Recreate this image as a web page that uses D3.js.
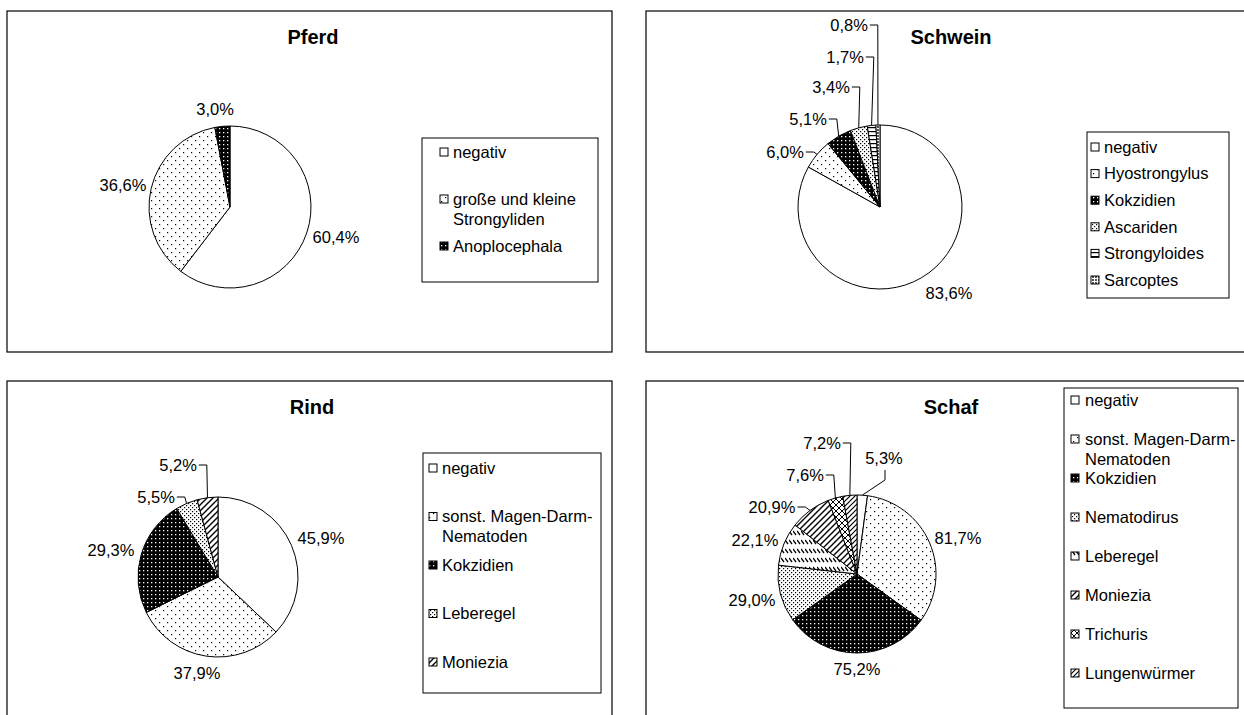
<!DOCTYPE html>
<html>
<head>
<meta charset="utf-8">
<script src="https://cdn.jsdelivr.net/npm/d3@7"></script>
<style>
body { margin: 0; background: #fff; }
svg text { font-family: Arial, "Liberation Sans", sans-serif; fill: #000; }
</style>
</head>
<body>
<svg id="chart" width="1244" height="715"></svg>
<script>
// ---- data ----
var pferdCats = ["negativ", "große und kleine Strongyliden", "Anoplocephala"];
var pferdVals = [60.4, 36.6, 3.0];

var schweinCats = ["negativ", "Hyostrongylus", "Kokzidien", "Ascariden", "Strongyloides", "Sarcoptes"];
var schweinVals = [83.6, 6.0, 5.1, 3.4, 1.7, 0.8];

var rindCats = ["negativ", "sonst. Magen-Darm-Nematoden", "Kokzidien", "Leberegel", "Moniezia"];
var rindVals = [45.9, 37.9, 29.3, 5.5, 5.2];

var schafCats = ["negativ", "sonst. Magen-Darm-Nematoden", "Kokzidien", "Nematodirus", "Leberegel", "Moniezia", "Trichuris", "Lungenwürmer"];
var schafVals = [5.3, 81.7, 75.2, 29.0, 22.1, 20.9, 7.6, 7.2];

// ---- layout / styles ----
var panels = [
    { title: "Pferd", cats: pferdCats, vals: pferdVals,
      fills: ["white", "dots", "darkdots"],
      frame: [7, 11, 605, 341], titlePos: [313, 37], center: [230, 207], r: 81,
      legend: { box: [422, 138, 176, 144], symX: 440, textX: 453, y0: 152, pitch: 47 },
      labelOff: [[106, 30, 0], [-107, -22, 0], [-15, -98, 0]] },
    { title: "Schwein", cats: schweinCats, vals: schweinVals,
      fills: ["white", "dots", "darkdots", "densedots", "hlines", "sarc"],
      frame: [646, 11, 620, 341], titlePos: [951, 37], center: [880, 207], r: 82,
      legend: { box: [1087, 132, 142, 166], symX: 1091, textX: 1104, y0: 147, pitch: 26.6 },
      labelOff: [[69, 86, 0], [-95, -55, 1], [-72, -88, 1], [-49, -120, 1], [-35, -150, 1], [-31, -182, 1]] },
    { title: "Rind", cats: rindCats, vals: rindVals,
      fills: ["white", "dots", "darkdots", "densedots", "diag"],
      frame: [7, 381, 605, 400], titlePos: [312, 407], center: [218, 577], r: 80,
      legend: { box: [423, 453, 178, 240], symX: 429, textX: 442, y0: 468, pitch: 48.5 },
      labelOff: [[103, -39, 0], [-21, 96, 0], [-107, -27, 0], [-62, -80, 1], [-40, -112, 1]] },
    { title: "Schaf", cats: schafCats, vals: schafVals,
      fills: ["white", "dots", "darkdots", "densedots", "dashdown", "diag", "cross", "diag2"],
      frame: [646, 381, 620, 400], titlePos: [951, 407], center: [857, 574], r: 79,
      legend: { box: [1064, 388, 174, 320], symX: 1071, textX: 1085, y0: 400, pitch: 39 },
      labelOff: [[27, -116, 1], [101, -36, 0], [0, 95, 0], [-105, 26, 0], [-102, -34, 0], [-85, -67, 1], [-52, -99, 1], [-35, -131, 1]] }
];

var fontSize = 16.5;
var svg = d3.select("#chart");

// fill patterns (Excel style black/white)
var defs = svg.append("defs");
function pat(id, w, h, bg) {
    var p = defs.append("pattern").attr("id", id)
        .attr("patternUnits", "userSpaceOnUse").attr("width", w).attr("height", h);
    p.append("rect").attr("width", w).attr("height", h).attr("fill", bg);
    return p;
}
var p;
p = pat("dots", 8, 8, "#fff");
p.append("rect").attr("x", 1).attr("y", 1).attr("width", 1.2).attr("height", 1.2).attr("fill", "#000");
p.append("rect").attr("x", 5).attr("y", 5).attr("width", 1.2).attr("height", 1.2).attr("fill", "#000");
p = pat("darkdots", 4, 4, "#000");
p.append("rect").attr("x", 1).attr("y", 1).attr("width", 1.3).attr("height", 1.3).attr("fill", "#fff");
p = pat("densedots", 4, 4, "#fff");
p.append("rect").attr("x", 0).attr("y", 0).attr("width", 1.2).attr("height", 1.2).attr("fill", "#000");
p.append("rect").attr("x", 2).attr("y", 2).attr("width", 1.2).attr("height", 1.2).attr("fill", "#000");
p = pat("hlines", 4, 4, "#fff");
p.append("rect").attr("x", 0).attr("y", 0).attr("width", 4).attr("height", 1.2).attr("fill", "#000");
p = pat("sarc", 3, 3, "#fff");
p.append("rect").attr("x", 0).attr("y", 0).attr("width", 2).attr("height", 2).attr("fill", "#555");
p = pat("diag", 6, 6, "#fff");
p.append("path").attr("d", "M-1,7L7,-1M-1,1L1,-1M5,7L7,5").attr("stroke", "#000").attr("stroke-width", 1.4);
p = pat("diag2", 5, 5, "#fff");
p.append("path").attr("d", "M-1,6L6,-1M-1,1L1,-1M4,6L6,4").attr("stroke", "#000").attr("stroke-width", 1.2);
p = pat("dashdown", 4, 9, "#fff");
p.append("path").attr("d", "M0,2L3,6").attr("stroke", "#000").attr("stroke-width", 1.3);
p = pat("cross", 6, 6, "#fff");
p.append("path").attr("d", "M0,0L6,6M6,0L0,6").attr("stroke", "#000").attr("stroke-width", 1);

function fillOf(k) { return k === "white" ? "#fff" : "url(#" + k + ")"; }
function fmt(v) { return v.toFixed(1).replace(".", ",") + "%"; }

// wrap a legend name into lines no wider than maxW (break at spaces and after hyphens)
function wrapLines(name, maxW, measure) {
    var tokens = name.match(/[^\s-]+-?|\s+/g).filter(function (t) { return t.trim() !== ""; });
    var lines = [], cur = "";
    tokens.forEach(function (t) {
        var sep = (cur === "" || /-$/.test(cur)) ? "" : " ";
        var test = cur + sep + t;
        if (cur !== "" && measure(test) > maxW) { lines.push(cur); cur = t; }
        else cur = test;
    });
    if (cur) lines.push(cur);
    return lines;
}

var measurer = svg.append("text").attr("font-size", fontSize).attr("visibility", "hidden");
function measure(s) { measurer.text(s); return measurer.node().getComputedTextLength(); }

panels.forEach(function (cfg) {
    var g = svg.append("g");

    // chart area frame
    g.append("rect")
        .attr("x", cfg.frame[0]).attr("y", cfg.frame[1])
        .attr("width", cfg.frame[2]).attr("height", cfg.frame[3])
        .attr("fill", "none").attr("stroke", "#000").attr("stroke-width", 1.2);

    g.append("text")
        .attr("x", cfg.titlePos[0]).attr("y", cfg.titlePos[1]).attr("dy", "0.35em")
        .attr("text-anchor", "middle").attr("font-size", 20).attr("font-weight", "bold")
        .text(cfg.title);

    var pie = d3.pie().sort(null).value(function (d) { return d; });
    var arcs = pie(cfg.vals);
    var arc = d3.arc().innerRadius(0).outerRadius(cfg.r);

    var pg = g.append("g").attr("transform", "translate(" + cfg.center[0] + "," + cfg.center[1] + ")");
    pg.selectAll("path.slice").data(arcs).enter().append("path")
        .attr("class", "slice")
        .attr("d", arc)
        .attr("fill", function (d, i) { return fillOf(cfg.fills[i]); })
        .attr("stroke", "#000").attr("stroke-width", 1);

    // data labels + leader lines
    arcs.forEach(function (d, i) {
        var off = cfg.labelOff[i];
        var lx = off[0], ly = off[1];
        var t = pg.append("text")
            .attr("x", lx).attr("y", ly).attr("dy", "0.35em")
            .attr("text-anchor", "middle").attr("font-size", fontSize)
            .text(fmt(d.value));
        if (!off[2]) return;
        var w = t.node().getComputedTextLength();
        var mid = (d.startAngle + d.endAngle) / 2;
        var ex = cfg.r * Math.sin(mid), ey = -cfg.r * Math.cos(mid);
        var pts;
        if (Math.abs(ex - lx) < w / 2 + 5) {
            pts = [[lx + 1, ly + 12], [lx + 1, ly + 22], [ex, ey]];
        } else {
            var s = ex > lx ? 1 : -1;
            var sx = lx + s * (w / 2 + 2);
            pts = [[sx, ly], [sx + s * 8, ly], [ex, ey]];
        }
        pg.append("path")
            .attr("d", d3.line()(pts))
            .attr("fill", "none").attr("stroke", "#000").attr("stroke-width", 1);
    });

    // legend
    var L = cfg.legend;
    g.append("rect")
        .attr("x", L.box[0]).attr("y", L.box[1]).attr("width", L.box[2]).attr("height", L.box[3])
        .attr("fill", "#fff").attr("stroke", "#000").attr("stroke-width", 1);
    var maxW = L.box[0] + L.box[2] - L.textX + 2;
    cfg.cats.forEach(function (name, i) {
        var y = L.y0 + i * L.pitch;
        g.append("rect")
            .attr("x", L.symX).attr("y", y - 4).attr("width", 8).attr("height", 8)
            .attr("fill", fillOf(cfg.fills[i])).attr("stroke", "#000").attr("stroke-width", 1);
        var lines = wrapLines(name, maxW, measure);
        var t = g.append("text").attr("font-size", fontSize);
        lines.forEach(function (ln, j) {
            t.append("tspan").attr("x", L.textX).attr("y", y + j * 20).attr("dy", "0.35em").text(ln);
        });
    });
});
measurer.remove();
</script>
</body>
</html>
